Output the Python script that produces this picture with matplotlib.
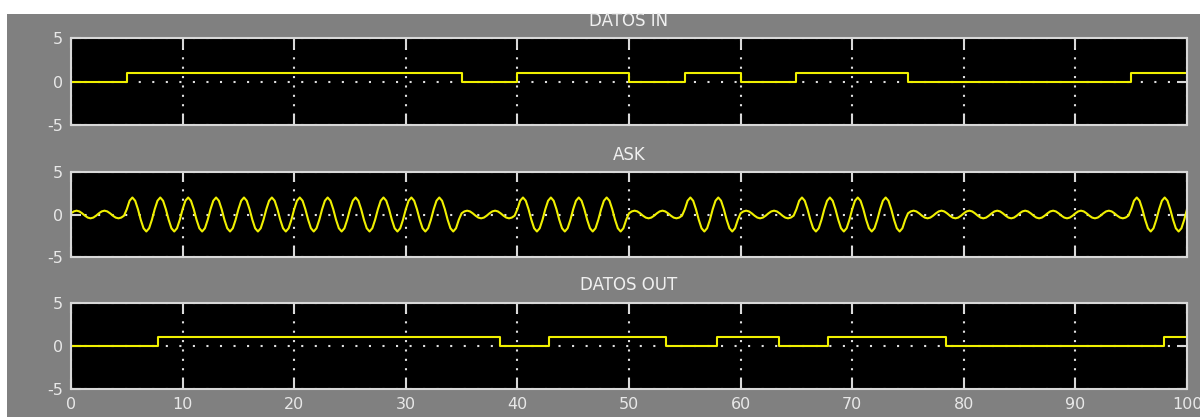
#!/usr/bin/python

import numpy as np
import matplotlib
matplotlib.use('Agg')
import matplotlib.pyplot as plt
from matplotlib.patches import Rectangle

# Dados ----------------------
titles = ['DATOS IN', 'ASK', 'DATOS OUT']

bit_time = 5.0
bits_in = [0, 1, 1, 1, 1, 1, 1, 0, 1, 1, 0, 1, 0, 1, 1, 0, 0, 0, 0, 1]

# ASK: amplitude por bit, portadora
amp_on = 2.0
amp_off = 0.45
carrier_period = 2.5
carrier_peak = 0.5
sample_time = 0.25

# saida demodulada (instantes de transicao)
out_edges = [0.0, 7.8, 38.4, 42.8, 53.3, 57.9, 63.4, 67.8, 78.4, 97.9]
out_levels = [0, 1, 0, 1, 0, 1, 0, 1, 0, 1]

x_ticks = [0, 10, 20, 30, 40, 50, 60, 70, 80, 90, 100]
y_ticks = [-5, 0, 5]
t_end = 100

FRAME = '#d8d8d8'
TRACE = '#f0f000'

plt.rcParams['axes.unicode_minus'] = False


def style_axis(ax, show_xlabels):
    ax.set_facecolor('black')
    ax.set_xlim(0, t_end)
    ax.set_ylim(-5, 5)
    ax.set_xticks(x_ticks)
    ax.set_yticks(y_ticks)
    for s in ax.spines.values():
        s.set_color(FRAME)
        s.set_linewidth(1.5)
    ax.tick_params(direction='in', length=7, width=1.5, color=FRAME,
                   top=True, right=True, labelcolor='#e8e8e8',
                   labelsize=11.5, pad=6)
    if not show_xlabels:
        ax.tick_params(labelbottom=False)
    # grelha pontilhada
    ax.grid(True, axis='x', color='#e0e0e0', linestyle=(0, (1, 3.5)), linewidth=1.5)
    ax.grid(True, axis='y', color='#e0e0e0', linestyle=(0, (1, 5.5)), linewidth=1.5)
    ax.set_axisbelow(True)


def main():
    fig = plt.figure(figsize=(12, 4.17), dpi=100)
    fig.patch.set_facecolor('white')
    fig.patches.append(Rectangle((7 / 1200, 0), 1, 403 / 417, transform=fig.transFigure,
                                 facecolor='#808080', edgecolor='none', zorder=-10))

    left = 71 / 1200
    width = 1116 / 1200
    boxes = [(38, 125), (172, 257), (303, 389)]
    axes = []
    for top, bottom in boxes:
        ax = fig.add_axes([left, 1 - bottom / 417, width, (bottom - top) / 417])
        axes.append(ax)

    # datos in
    t_bits = np.arange(len(bits_in) + 1) * bit_time
    y_bits = bits_in + [bits_in[-1]]
    axes[0].step(t_bits, y_bits, where='post', color=TRACE, lw=1.5)

    # ask
    t = np.arange(0, t_end + sample_time, sample_time)
    idx = np.minimum((t // bit_time).astype(int), len(bits_in) - 1)
    amp = np.where(np.array(bits_in)[idx] == 1, amp_on, amp_off)
    ask = amp * np.cos(2 * np.pi * (t - carrier_peak) / carrier_period)
    axes[1].plot(t, ask, color=TRACE, lw=1.5)

    # datos out
    t_out = out_edges + [t_end]
    y_out = out_levels + [out_levels[-1]]
    axes[2].step(t_out, y_out, where='post', color=TRACE, lw=1.5)

    for i, ax in enumerate(axes):
        style_axis(ax, i == 2)
        ax.set_title(titles[i], color='#f0f0f0', fontsize=12, pad=9)

    fig.savefig('out.png', dpi=100, facecolor=fig.get_facecolor())


if __name__ == '__main__':
    main()
